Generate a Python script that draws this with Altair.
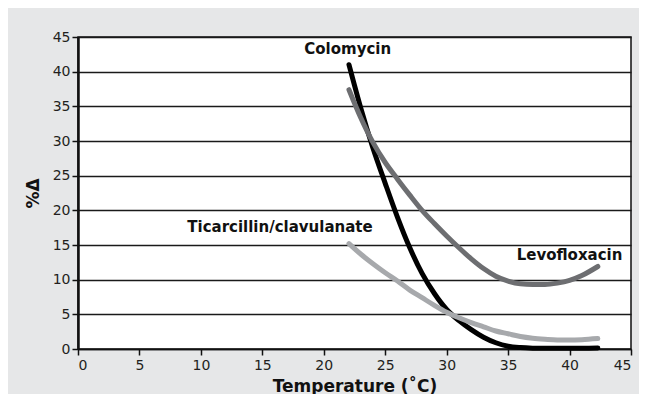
import altair as alt
import pandas as pd

# ---- data ----
colo_t = [22.05, 23, 24, 25, 26, 27, 28, 29, 30, 31, 32, 33, 34, 35, 36, 37, 38, 40, 42.3]
colo_v = [41.0, 34.8, 29.0, 23.9, 19.0, 14.6, 10.9, 8.0, 5.7, 4.1, 2.8, 1.7, 0.9, 0.4, 0.2, 0.12, 0.1, 0.1, 0.15]

levo_t = [22.05, 23, 24, 25, 26, 27, 28, 29, 30, 31, 32, 33, 34, 35, 36, 37, 38, 39, 40, 41, 42.3]
levo_v = [37.4, 33.4, 29.8, 26.9, 24.5, 22.2, 20.0, 18.1, 16.3, 14.6, 13.0, 11.6, 10.5, 9.8, 9.4, 9.3, 9.3, 9.5, 9.9, 10.6, 11.9]

tica_t = [22.05, 23, 24, 25, 26, 27, 28, 29, 30, 31, 32, 33, 34, 35, 36, 37, 38, 39, 40, 41, 42.3]
tica_v = [15.2, 13.7, 12.3, 11.0, 9.8, 8.5, 7.4, 6.3, 5.3, 4.5, 3.8, 3.2, 2.6, 2.2, 1.8, 1.55, 1.4, 1.3, 1.3, 1.35, 1.5]

series_names = ["Colomycin", "Levofloxacin", "Ticarcillin/clavulanate"]
series_colors = ["#000000", "#6d6e71", "#a7a9ac"]

label_text = ["Colomycin", "Ticarcillin/clavulanate", "Levofloxacin"]
label_x = [21.95, 23.98, 44.3]
label_y = [43.2, 17.6, 13.6]
label_align = ["center", "right", "right"]

ticks = [0, 5, 10, 15, 20, 25, 30, 35, 40, 45]

rows = []
for name, ts, vs in zip(series_names, [colo_t, levo_t, tica_t], [colo_v, levo_v, tica_v]):
    for i, (t, v) in enumerate(zip(ts, vs)):
        rows.append({"drug": name, "t": t, "v": v, "i": i})
df = pd.DataFrame(rows)

labels = pd.DataFrame({"text": label_text, "x": label_x, "y": label_y, "align": label_align})

FONT = "DejaVu Sans"

xs = alt.Scale(domain=[0, 45], nice=False)
ys = alt.Scale(domain=[0, 45], nice=False)

common = dict(labelFont=FONT, labelFontSize=14, labelColor="#231f20",
              titleFont=FONT, titleFontSize=17, titleFontWeight="bold", titleColor="#111111",
              domainColor="#111111", tickColor="#111111", tickWidth=1.5, tickSize=6,
              values=ticks)

x_axis = alt.Axis(title="Temperature (˚C)", grid=False, labelPadding=3, titlePadding=6,
                  domainWidth=1.5, **common)
y_axis = alt.Axis(title="%Δ", grid=True, gridColor="#1a1a1a", gridWidth=1.3,
                  labelPadding=2, titlePadding=10, domainWidth=2.5, **common)

lines = alt.Chart(df).mark_line(strokeWidth=5, strokeCap="round", interpolate="monotone").encode(
    x=alt.X("t:Q", scale=xs, axis=x_axis, title="Temperature (˚C)"),
    y=alt.Y("v:Q", scale=ys, axis=y_axis, title="%Δ"),
    color=alt.Color("drug:N", scale=alt.Scale(domain=series_names, range=series_colors), legend=None),
    order="i:Q",
)

def lab(align):
    d = labels[labels["align"] == align]
    return alt.Chart(d).mark_text(font=FONT, fontSize=15, fontWeight="bold", color="#111111",
                                  align=align, baseline="middle").encode(
        x=alt.X("x:Q", scale=xs, axis=x_axis, title="Temperature (˚C)"),
        y=alt.Y("y:Q", scale=ys, axis=y_axis, title="%Δ"),
        text="text:N")

chart = alt.layer(lines, lab("center"), lab("right")).properties(
    width=553, height=312,
    autosize=alt.AutoSizeParams(type="none"),
    padding={"left": 70, "top": 29, "right": 8, "bottom": 45},
    background="#e6e7e8",
).configure_view(
    fill="white", stroke="#111111", strokeWidth=1.5
)

chart.save("out.html", embed_options={"renderer": "svg", "actions": False})
